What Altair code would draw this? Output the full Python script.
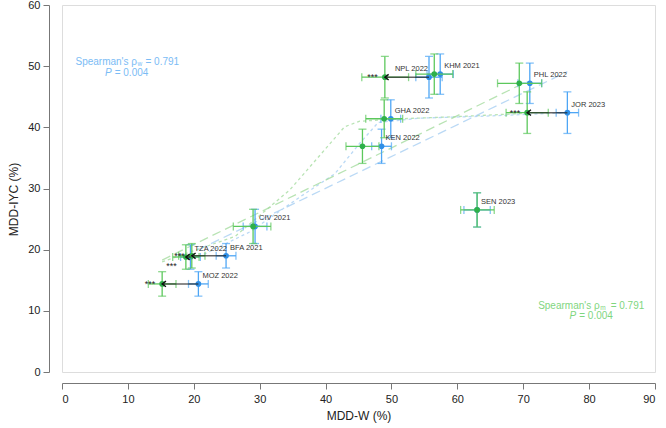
import altair as alt
import pandas as pd

# Survey labels and MDD-IYC prevalence (%) with 95% CI
labels = ["NPL 2022", "KHM 2021", "GHA 2022", "KEN 2022", "PHL 2022", "JOR 2023",
          "CIV 2021", "TZA 2022", "BFA 2021", "MOZ 2022", "SEN 2023"]
iyc = [48.2, 48.7, 41.4, 36.9, 47.2, 42.4, 23.8, 18.8, 19.0, 14.4, 26.5]
iyc_lo = [44.8, 45.4, 38.3, 34.1, 43.9, 39.0, 21.0, 16.8, 17.0, 12.4, 23.7]
iyc_hi = [51.6, 52.0, 44.5, 39.7, 50.5, 45.8, 26.6, 20.8, 21.0, 16.4, 29.3]

# MDD-W (%), first estimate (blue) with 95% CI
w_blue = [55.7, 57.4, 49.9, 48.5, 71.0, 76.7, 29.3, 19.5, 24.9, 20.7, 63.0]
w_blue_lo = [53.7, 55.4, 48.4, 47.0, 69.2, 75.0, 27.5, 18.0, 23.4, 19.2, 61.0]
w_blue_hi = [57.7, 59.4, 51.4, 50.0, 72.8, 78.4, 31.1, 21.0, 26.4, 22.2, 65.0]

# MDD-W (%), second estimate (green) with 95% CI
w_green = [49.0, 56.5, 48.9, 45.6, 69.4, 70.6, 29.0, 18.8, 19.7, 15.2, 63.0]
w_green_lo = [45.5, 53.7, 46.1, 43.1, 66.1, 67.4, 26.0, 16.8, 17.7, 13.1, 60.5]
w_green_hi = [52.6, 59.3, 51.7, 48.1, 72.8, 73.8, 31.7, 20.8, 21.7, 17.3, 65.6]

# Significant shift between the two estimates
signif = [True, False, False, False, False, True, False, True, True, True, False]

# Straight-line fits
blue_fit_x = [20.7, 76.7]
blue_fit_y = [20.0, 49.1]
green_fit_x = [15.2, 70.6]
green_fit_y = [18.3, 47.5]

# Smoothed curves
blue_smooth_x = [20.7, 28.5, 36.1, 41.4, 45.2, 48.0, 54.3, 63.4, 76.7]
blue_smooth_y = [18.8, 22.9, 28.6, 32.4, 37.4, 40.8, 41.5, 41.8, 42.4]
green_smooth_x = [15.2, 26.3, 34.6, 39.2, 42.9, 45.2, 51.3, 58.9, 70.6]
green_smooth_y = [18.0, 22.2, 29.8, 35.5, 40.1, 41.0, 41.4, 41.7, 42.3]

BLUE_PT = "#2f8fe6"
BLUE_BAR = "#4ea6f5"
GREEN_PT = "#2fb04a"
GREEN_BAR = "#5cc85c"
FONT = "Liberation Sans"

df = pd.DataFrame({
    "label": labels, "iyc": iyc, "iyc_lo": iyc_lo, "iyc_hi": iyc_hi,
    "wb": w_blue, "wb_lo": w_blue_lo, "wb_hi": w_blue_hi,
    "wg": w_green, "wg_lo": w_green_lo, "wg_hi": w_green_hi,
    "sig": signif,
})

xs = alt.Scale(domain=[0, 90], nice=False, zero=False)
ys = alt.Scale(domain=[0, 60], nice=False, zero=False)

x_axis = alt.Axis(values=list(range(0, 91, 10)), offset=11, grid=False,
                  domainColor="#777", tickColor="#777", tickSize=6,
                  labelFontSize=11, labelColor="#222", labelFont=FONT,
                  labelPadding=4, titleFont=FONT, titleFontSize=12,
                  titleFontWeight="normal", titleColor="#222", titlePadding=6)
y_axis = alt.Axis(values=list(range(0, 61, 10)), offset=13, grid=False,
                  domainColor="#777", tickColor="#777", tickSize=6,
                  labelFontSize=11, labelColor="#222", labelFont=FONT,
                  labelPadding=3, titleFont=FONT, titleFontSize=12,
                  titleFontWeight="normal", titleColor="#222",
                  titleX=-36, titleY=194, titleBaseline="middle", titleAngle=-90)

base = alt.Chart(df)
X = lambda f: alt.X(f"{f}:Q", scale=xs)
Y = lambda f: alt.Y(f"{f}:Q", scale=ys)


def curve(xv, yv, color, dash, width=1.3, opacity=0.8):
    d = pd.DataFrame({"x": xv, "y": yv})
    return alt.Chart(d).mark_line(color=color, strokeDash=dash, strokeWidth=width,
                                  opacity=opacity).encode(x=X("x"), y=Y("y"))


fits = [
    curve(green_smooth_x, green_smooth_y, "#a6dca0", [3, 3]),
    curve(blue_smooth_x, blue_smooth_y, "#a9d0f3", [3, 3]),
    curve(green_fit_x, green_fit_y, "#a6dca0", [9, 5]),
    curve(blue_fit_x, blue_fit_y, "#a9d0f3", [9, 5]),
]


def bars(xc, lo, hi, color, ptcolor):
    hbar = base.mark_rule(color=color, strokeWidth=1.3).encode(
        x=X(lo), x2=f"{hi}:Q", y=Y("iyc"))
    vbar = base.mark_rule(color=color, strokeWidth=1.3).encode(
        x=X(xc), y=Y("iyc_lo"), y2="iyc_hi:Q")
    vtick = dict(color=color, orient="vertical", size=8, thickness=1.3)
    htick = dict(color=color, orient="horizontal", size=8, thickness=1.3)
    caps = [
        base.mark_tick(**vtick).encode(x=X(lo), y=Y("iyc")),
        base.mark_tick(**vtick).encode(x=X(hi), y=Y("iyc")),
        base.mark_tick(**htick).encode(x=X(xc), y=Y("iyc_lo")),
        base.mark_tick(**htick).encode(x=X(xc), y=Y("iyc_hi")),
    ]
    pts = base.mark_circle(color=ptcolor, size=32, opacity=1).encode(x=X(xc), y=Y("iyc"))
    return [hbar, vbar] + caps + [pts]


sig = base.transform_filter("datum.sig")

arrow_line = sig.mark_rule(color="#222", strokeWidth=1.5, opacity=0.7).encode(
    x=X("wb"), x2="wg:Q", y=Y("iyc"))
arrow_head = sig.mark_point(shape="M 1.2 -0.9 L 0 0 L 1.2 0.9", filled=False,
                            color="#111", size=40, strokeWidth=1.4, opacity=1).encode(
    x=X("wg"), y=Y("iyc"))
star_style = dict(text="***", font=FONT, fontSize=9, color="#222", align="right",
                  baseline="middle", dx=-7)
stars = sig.transform_filter("datum.label !== 'TZA 2022'").mark_text(**star_style).encode(
    x=X("wg"), y=Y("iyc"))
stars_low = sig.transform_filter("datum.label === 'TZA 2022'").mark_text(
    **{**star_style, "dy": 9, "dx": -9}).encode(x=X("wg"), y=Y("iyc"))

name_right = base.transform_filter("datum.label !== 'NPL 2022'").mark_text(
    font=FONT, fontSize=7.5, color="#333", align="left", baseline="middle",
    dx=4, dy=-8).encode(x=X("wb"), y=Y("iyc"), text="label:N")
name_left = base.transform_filter("datum.label === 'NPL 2022'").mark_text(
    font=FONT, fontSize=7.5, color="#333", align="right", baseline="middle",
    dx=-1, dy=-8).encode(x=X("wb"), y=Y("iyc"), text="label:N")


def note(x, y, text, color, size=10, align="left", style="normal", dx=0, dy=0):
    d = pd.DataFrame({"x": [x], "y": [y], "t": [text]})
    return alt.Chart(d).mark_text(font=FONT, fontSize=size, color=color, align=align,
                                  baseline="middle", fontStyle=style, dx=dx, dy=dy).encode(
        x=X("x"), y=Y("y"), text="t:N")


BLUE_TXT = "#7bbcf5"
GREEN_TXT = "#7fd67f"
notes = [
    note(11.38, 50.73, "Spearman's ρ", BLUE_TXT, align="right"),
    note(11.38, 50.73, "w", BLUE_TXT, size=6.5, dx=0.5, dy=2),
    note(11.38, 50.73, "= 0.791", BLUE_TXT, dx=8.5),
    note(7.54, 48.95, "P", BLUE_TXT, align="right", style="italic"),
    note(7.54, 48.95, "= 0.004", BLUE_TXT, dx=3),
    note(81.6, 10.79, "Spearman's ρ", GREEN_TXT, align="right"),
    note(81.6, 10.79, "m", GREEN_TXT, size=6.5, dx=0.5, dy=2),
    note(81.6, 10.79, "= 0.791", GREEN_TXT, dx=11),
    note(78.04, 9.1, "P", GREEN_TXT, align="right", style="italic"),
    note(78.04, 9.1, "= 0.004", GREEN_TXT, dx=3),
]

axes_layer = base.mark_point(opacity=0).encode(
    x=alt.X("wb:Q", scale=xs, axis=x_axis, title="MDD-W (%)"),
    y=alt.Y("iyc:Q", scale=ys, axis=y_axis, title="MDD-IYC (%)"))

layers = ([axes_layer] + fits + bars("wb", "wb_lo", "wb_hi", BLUE_BAR, BLUE_PT)
          + bars("wg", "wg_lo", "wg_hi", GREEN_BAR, GREEN_PT)
          + [arrow_line, arrow_head, stars, stars_low, name_right, name_left] + notes)

chart = alt.layer(*layers).properties(
    width=593, height=367,
    autosize=alt.AutoSizeParams(type="none"),
    padding={"left": 62, "top": 5, "right": 11, "bottom": 56},
).configure_view(stroke=None).configure(background="white")

chart.save("out.html", embed_options={"renderer": "svg", "actions": False})
